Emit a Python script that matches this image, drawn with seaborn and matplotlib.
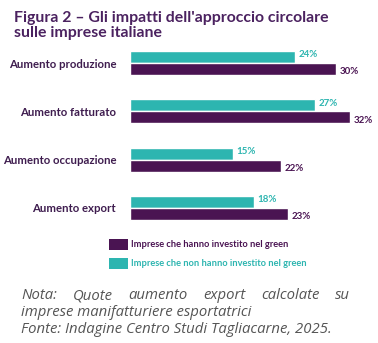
import matplotlib
matplotlib.use("Agg")
import matplotlib.pyplot as plt
import seaborn as sns
import pandas as pd
from matplotlib.patches import Rectangle

categories = ["Aumento produzione", "Aumento fatturato", "Aumento occupazione", "Aumento export"]
green_vals = [30, 32, 22, 23]
non_green_vals = [24, 27, 15, 18]
series_green = "Imprese che hanno investito nel green"
series_non = "Imprese che non hanno investito nel green"
title_lines = ["Figura 2 \u2013 Gli impatti dell'approccio circolare", "sulle imprese italiane"]
note_words = ["Nota:", "Quote", "aumento", "export", "calcolate", "su"]
note_line2 = "imprese manifatturiere esportatrici"
note_line3 = "Fonte: Indagine Centro Studi Tagliacarne, 2025."

PURPLE = "#4a1452"
TEAL = "#2db5b0"
TITLE_C = "#4b2260"
LABEL_C = "#3f1d4f"
NOTE_C = "#555555"

sns.set_theme(style="white")
plt.rcParams["font.family"] = ["Lato", "DejaVu Sans"]

df = pd.DataFrame({
    "cat": categories * 2,
    "val": non_green_vals + green_vals,
    "serie": [series_non] * 4 + [series_green] * 4,
})

W, H = 378, 343
fig = plt.figure(figsize=(W / 100, H / 100), dpi=100)
fig.patch.set_facecolor("white")
ax = fig.add_axes([130 / W, 1 - 232.15 / H, 248 / W, 193.3 / H])

sns.barplot(data=df, y="cat", x="val", hue="serie", order=categories,
            hue_order=[series_non, series_green], palette=[TEAL, PURPLE],
            orient="h", width=0.5, saturation=1, ax=ax, legend=False)
ax.set_xlim(0, 36.1)
ax.set_ylim(3.5, -0.5)
ax.set_xlabel("")
ax.set_ylabel("")
ax.set_xticks([])
for s in ax.spines.values():
    s.set_visible(False)
ax.tick_params(axis="y", length=0, pad=10)
for lab in ax.get_yticklabels():
    lab.set_fontweight("bold")
    lab.set_fontsize(8.2)
    lab.set_color(LABEL_C)

for container, color, dy in zip(ax.containers, [TEAL, PURPLE], [1.5, -2]):
    for bar, v in zip(container, container.datavalues):
        ax.annotate(f"{v:.0f}%", (bar.get_width(), bar.get_y() + bar.get_height() / 2),
                    xytext=(2.5, dy), textcoords="offset points", va="center", ha="left",
                    fontsize=7, fontweight="bold", color=color)

# title
fig.text(14 / W, 1 - 22 / H, title_lines[0], fontsize=11.4, fontweight="bold", color=TITLE_C, va="baseline", ha="left")
fig.text(14 / W, 1 - 37.5 / H, title_lines[1], fontsize=11.4, fontweight="bold", color=TITLE_C, va="baseline", ha="left")

# legend
fig.add_artist(Rectangle((109 / W, 1 - 250 / H), 19 / W, 11 / H, transform=fig.transFigure, color=PURPLE, lw=0))
fig.add_artist(Rectangle((109 / W, 1 - 269 / H), 19 / W, 11 / H, transform=fig.transFigure, color=TEAL, lw=0))
fig.text(131 / W, 1 - 244.5 / H, series_green, fontsize=6.7, fontweight="bold", color=PURPLE, va="center")
fig.text(131 / W, 1 - 263.5 / H, series_non, fontsize=6.7, fontweight="bold", color=TEAL, va="center")

# note (first line justified between x=21 and x=350)
nfam = ["Open Sans", "DejaVu Sans"]
NS = 10.7
left, right = 21, 350
renderer = fig.canvas.get_renderer()
texts = [fig.text(0, 1 - 299 / H, w, fontsize=NS, style="italic", color=NOTE_C,
                  va="baseline", family=nfam) for w in note_words]
widths = [t.get_window_extent(renderer).width for t in texts]
gap = (right - left - sum(widths)) / (len(texts) - 1)
x = left
for t, wd in zip(texts, widths):
    t.set_x(x / W)
    x += wd + gap
fig.text(left / W, 1 - 316 / H, note_line2, fontsize=NS, style="italic", color=NOTE_C, va="baseline",
         family=nfam)
fig.text(left / W, 1 - 333 / H, note_line3, fontsize=NS, style="italic", color=NOTE_C, va="baseline",
         family=nfam)

fig.savefig("out.png", dpi=100, facecolor="white")
